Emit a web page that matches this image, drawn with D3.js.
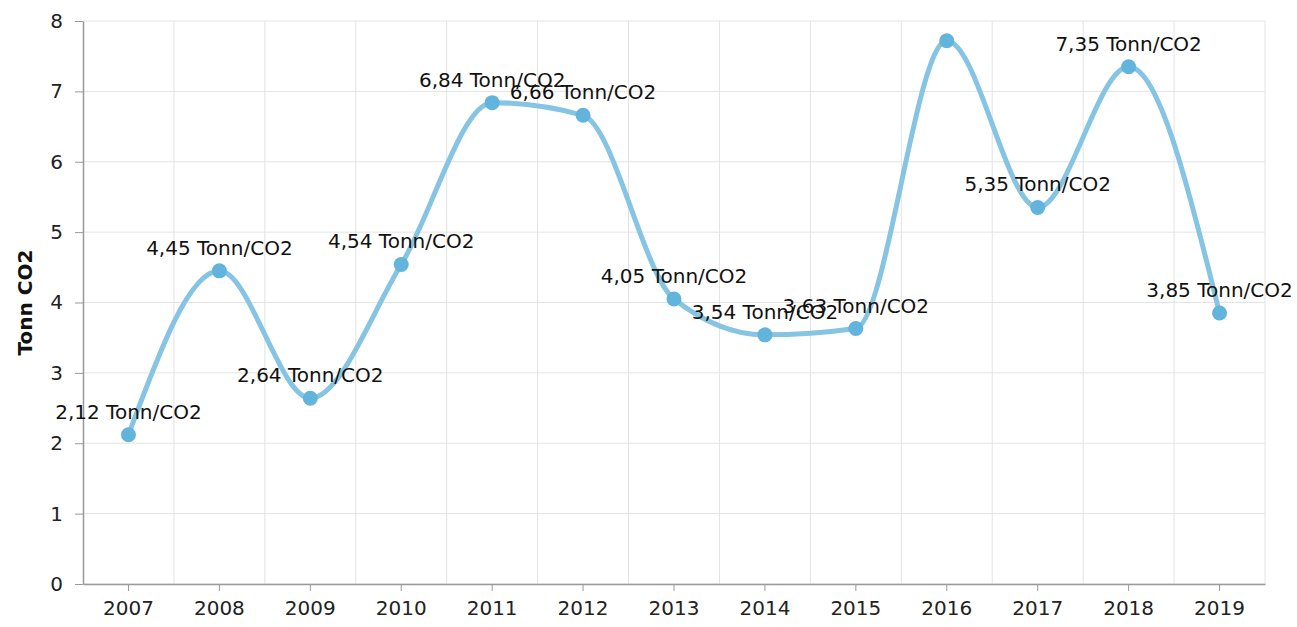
<!DOCTYPE html>
<html>
<head>
<meta charset="utf-8">
<script src="https://cdn.jsdelivr.net/npm/d3@7"></script>
<style>
  body { margin: 0; background: #fff; }
  svg { display: block; font-family: "DejaVu Sans", Verdana, sans-serif; }
</style>
</head>
<body>
<div id="chart"></div>
<script>
// Data
const years = ["2007", "2008", "2009", "2010", "2011", "2012", "2013", "2014", "2015", "2016", "2017", "2018", "2019"];
const values = [2.12, 4.45, 2.64, 4.54, 6.84, 6.66, 4.05, 3.54, 3.63, 7.72, 5.35, 7.35, 3.85];
const hiddenLabels = ["2016"];
const yTicks = [0, 1, 2, 3, 4, 5, 6, 7, 8];
const yTitle = "Tonn CO2";
const unit = "Tonn/CO2";

const points = years.map((year, i) => ({ year, value: values[i] }));

const W = 1297, H = 627;
const margin = { top: 21, right: 32, bottom: 43, left: 83 };
const innerW = W - margin.left - margin.right;
const innerH = H - margin.top - margin.bottom;

const svg = d3.select("#chart").append("svg").attr("width", W).attr("height", H);
const g = svg.append("g").attr("transform", `translate(${margin.left},${margin.top})`);

const x = d3.scaleBand().domain(years).range([0, innerW]);
const y = d3.scaleLinear().domain([0, 8]).range([innerH, 0]);
const cx = (year) => x(year) + x.bandwidth() / 2;

// Grid
const grid = g.append("g").attr("class", "grid");
grid.selectAll("line.h").data(yTicks).join("line")
  .attr("x1", 0).attr("x2", innerW)
  .attr("y1", (d) => y(d)).attr("y2", (d) => y(d))
  .attr("stroke", "#e3e3e3").attr("stroke-width", 1);
grid.selectAll("line.v").data(years).join("line")
  .attr("x1", (d) => x(d) + x.bandwidth()).attr("x2", (d) => x(d) + x.bandwidth())
  .attr("y1", 0).attr("y2", innerH)
  .attr("stroke", "#e3e3e3").attr("stroke-width", 1);

// Axes
const xAxis = g.append("g").attr("transform", `translate(0,${innerH})`)
  .call(d3.axisBottom(x).tickSize(7).tickPadding(10).tickSizeOuter(0));
const yAxis = g.append("g")
  .call(d3.axisLeft(y).tickValues(yTicks).tickSize(8).tickPadding(12).tickSizeOuter(0));
[xAxis, yAxis].forEach((a) => {
  a.select(".domain").attr("stroke", "#999").attr("stroke-width", 1.5);
  a.selectAll(".tick line").attr("stroke", "#999");
  a.selectAll(".tick text").attr("fill", "#222").style("font-size", "20px")
    .style("font-family", "'DejaVu Sans', Verdana, sans-serif");
});

svg.append("text")
  .attr("transform", `translate(32,${margin.top + innerH / 2}) rotate(-90)`)
  .attr("text-anchor", "middle")
  .style("font-size", "20px").style("font-weight", "bold")
  .attr("fill", "#111")
  .text(yTitle);

// Line
const line = d3.line()
  .x((d) => cx(d.year))
  .y((d) => y(d.value))
  .curve(d3.curveMonotoneX);

g.append("path").datum(points)
  .attr("fill", "none")
  .attr("stroke", "#85c4e3")
  .attr("stroke-width", 5)
  .attr("stroke-linecap", "round")
  .attr("d", line);

g.selectAll("circle.pt").data(points).join("circle")
  .attr("cx", (d) => cx(d.year))
  .attr("cy", (d) => y(d.value))
  .attr("r", 7.5)
  .attr("fill", "#63b4dc");

// Labels
g.selectAll("text.lbl")
  .data(points.filter((d) => !hiddenLabels.includes(d.year)))
  .join("text")
  .attr("x", (d) => cx(d.year))
  .attr("y", (d) => y(d.value) - 16)
  .attr("text-anchor", "middle")
  .style("font-size", "20px")
  .attr("fill", "#111")
  .text((d) => `${d.value.toFixed(2).replace(".", ",")} ${unit}`);
</script>
</body>
</html>
